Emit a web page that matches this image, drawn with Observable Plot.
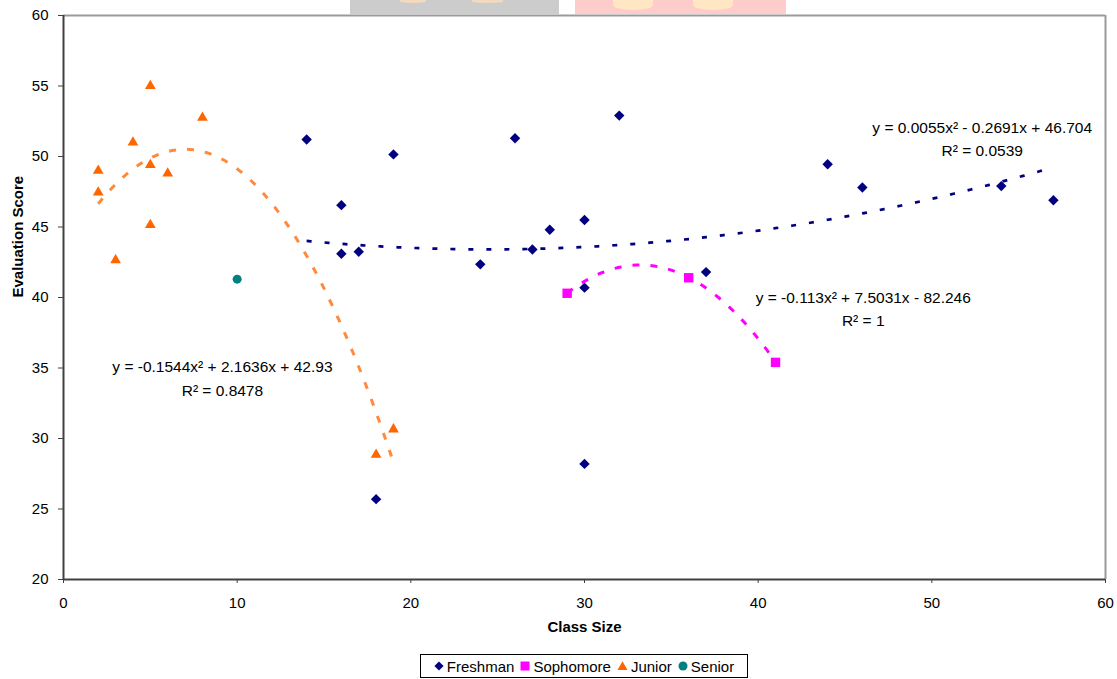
<!DOCTYPE html>
<html>
<head>
<meta charset="utf-8">
<script src="https://cdn.jsdelivr.net/npm/d3@7"></script>
<script src="https://cdn.jsdelivr.net/npm/@observablehq/plot@0.6"></script>
<style>
  html, body { margin: 0; padding: 0; background: #fff; }
  body { width: 1117px; height: 679px; position: relative; overflow: hidden;
         font-family: "Liberation Sans", Arial, sans-serif; }
  #chart { position: absolute; left: 0; top: 0; }
  .deco { position: absolute; top: 0; height: 14px; }
  .blob { position: absolute; border-radius: 0 0 50% 50%; }
  #legend { position: absolute; left: 420px; top: 654px; width: 326px; height: 22px;
            border: 1px solid #000; display: flex; align-items: center; justify-content: center;
            font-size: 15px; color: #000; white-space: nowrap; box-sizing: content-box; }
  #legend span.item { display: inline-flex; align-items: center; margin: 0 3px; }
  #legend svg { margin-right: 3px; }
</style>
</head>
<body>
<div class="deco" style="left:350px;width:209px;background:#cccccc;">
  <div class="blob" style="left:50px;top:0;width:26px;height:3px;background:#f3d9bf;"></div>
  <div class="blob" style="left:122px;top:0;width:31px;height:3px;background:#f3d9bf;"></div>
</div>
<div class="deco" style="left:575px;width:211px;background:#ffcccc;">
  <div class="blob" style="left:38px;top:0;width:40px;height:10px;background:#ffe6c4;"></div>
  <div class="blob" style="left:118px;top:0;width:40px;height:10px;background:#ffe6c4;"></div>
</div>
<div id="chart"></div>
<div id="legend"></div>
<script>
// ---- data ----
const seriesNames = ["Freshman", "Sophomore", "Junior", "Senior"];
const seriesColors = ["#000080", "#ff00ff", "#ff6600", "#008080"];

const freshmanX = [14, 16, 16, 17, 18, 19, 24, 26, 27, 28, 30, 30, 30, 32, 37, 44, 46, 54, 57];
const freshmanY = [51.2, 46.55, 43.1, 43.25, 25.7, 50.15, 42.35, 51.3, 43.4, 44.8, 45.5, 40.7, 28.2, 52.9, 41.8, 49.45, 47.8, 47.9, 46.9];

const sophomoreX = [29, 36, 41];
const sophomoreY = [40.3, 41.4, 35.4];

const juniorX = [2, 2, 3, 4, 5, 5, 5, 6, 8, 18, 19];
const juniorY = [49.0, 47.45, 42.65, 51.0, 55.0, 49.4, 45.15, 48.8, 52.75, 28.85, 30.65];

const seniorX = [10];
const seniorY = [41.3];

// polynomial trendline coefficients shown on the chart [a, b, c] for a*x^2 + b*x + c
const freshmanFit = [0.0055, -0.2691, 46.704];
const sophomoreFit = [-0.113, 7.5031, -82.246];
const juniorFit = [-0.1544, 2.1636, 42.93];

const freshmanLabel = "y = 0.0055x² - 0.2691x + 46.704\nR² = 0.0539";
const sophomoreLabel = "y = -0.113x² + 7.5031x - 82.246\nR² = 1";
const juniorLabel = "y = -0.1544x² + 2.1636x + 42.93\nR² = 0.8478";

const xTicks = [0, 10, 20, 30, 40, 50, 60];
const yTicks = [20, 25, 30, 35, 40, 45, 50, 55, 60];
const xTitle = "Class Size";
const yTitle = "Evaluation Score";

// ---- build ----
const rows = (xs, ys) => xs.map((x, i) => ({x, y: ys[i]}));
const trend = (xs, k) => {
  const x0 = d3.min(xs), x1 = d3.max(xs);
  const n = Math.round((x1 - x0) / 0.25);
  return d3.range(n + 1).map(i => {
    const x = x0 + (x1 - x0) * i / n;
    return {x, y: k[0] * x * x + k[1] * x + k[2]};
  });
};

const fresh = rows(freshmanX, freshmanY);
const soph = rows(sophomoreX, sophomoreY);
const jun = rows(juniorX, juniorY);
const sen = rows(seniorX, seniorY);

// annotation anchors in data units
const labels = [
  {x: 52.9, y: 51.4, text: freshmanLabel},
  {x: 46.05, y: 39.3, text: sophomoreLabel},
  {x: 9.15, y: 34.4, text: juniorLabel}
];

const font = "'Liberation Sans', Arial, sans-serif";
const axisColor = "#404040";

const chart = Plot.plot({
  width: 1117,
  height: 646,
  marginTop: 15,
  marginRight: 12,
  marginBottom: 67,
  marginLeft: 63,
  style: {fontFamily: font, fontSize: "15px", color: "#000", background: "transparent", overflow: "visible"},
  x: {domain: [0, 60], label: null},
  y: {domain: [20, 60], label: null},
  marks: [
    Plot.ruleY([60], {stroke: "#9a9a9a", strokeWidth: 2}),
    Plot.ruleX([60], {y1: 20, y2: 60, stroke: "#9a9a9a", strokeWidth: 2}),
    Plot.axisX({ticks: xTicks, tickSize: 4, tickPadding: 14, stroke: axisColor, fill: "#000", fontSize: 15, label: null}),
    Plot.axisY({ticks: yTicks, tickSize: 5, tickPadding: 10, stroke: axisColor, fill: "#000", fontSize: 15, label: null}),
    Plot.ruleX([0], {y1: 20, y2: 60, stroke: axisColor, strokeWidth: 2}),
    Plot.ruleY([20], {stroke: axisColor, strokeWidth: 2}),
    Plot.text([xTitle], {frameAnchor: "bottom", dy: 52, fontWeight: "bold", fontSize: 15, fill: "#000"}),
    Plot.text([yTitle], {frameAnchor: "left", dx: -45, rotate: -90, fontWeight: "bold", fontSize: 15, fill: "#000"}),
    Plot.dot(fresh, {x: "x", y: "y", symbol: "diamond2", r: 4.7, fill: seriesColors[0], stroke: null}),
    Plot.dot(soph, {x: "x", y: "y", symbol: "square", r: 5.3, fill: seriesColors[1], stroke: null}),
    Plot.dot(jun, {x: "x", y: "y", symbol: "triangle", r: 4, fill: seriesColors[2], stroke: null}),
    Plot.dot(sen, {x: "x", y: "y", symbol: "circle", r: 4.5, fill: seriesColors[3], stroke: null}),
    Plot.line(trend(freshmanX, freshmanFit), {x: "x", y: "y", stroke: seriesColors[0], strokeWidth: 2.7, strokeDasharray: "5,13", strokeLinecap: "butt"}),
    Plot.line(trend(sophomoreX, sophomoreFit), {x: "x", y: "y", stroke: seriesColors[1], strokeWidth: 3, strokeDasharray: "7,11", strokeLinecap: "butt"}),
    Plot.line(trend(juniorX, juniorFit), {x: "x", y: "y", stroke: "#ff8a3d", strokeWidth: 3, strokeDasharray: "7,11", strokeLinecap: "butt"}),
    Plot.text(labels, {x: "x", y: "y", text: "text", lineHeight: 1.5, fontSize: 15.5, fill: "#000", textAnchor: "middle"})
  ]
});
document.getElementById("chart").appendChild(chart);

// legend
const symbolFor = {
  Freshman: '<svg width="10" height="12" viewBox="-5 -6 10 12"><path d="M0,-4.6L4.6,0L0,4.6L-4.6,0Z" fill="#000080"/></svg>',
  Sophomore: '<svg width="10" height="12" viewBox="-5 -6 10 12"><rect x="-4.5" y="-4.5" width="9" height="9" fill="#ff00ff"/></svg>',
  Junior: '<svg width="11" height="12" viewBox="-5.5 -6 11 12"><path d="M0,-4.8L5,4L-5,4Z" fill="#ff6600"/></svg>',
  Senior: '<svg width="10" height="12" viewBox="-5 -6 10 12"><circle r="4.5" fill="#008080"/></svg>'
};
document.getElementById("legend").innerHTML = seriesNames
  .map(n => `<span class="item">${symbolFor[n]}<span>${n}</span></span>`).join("");
</script>
</body>
</html>
